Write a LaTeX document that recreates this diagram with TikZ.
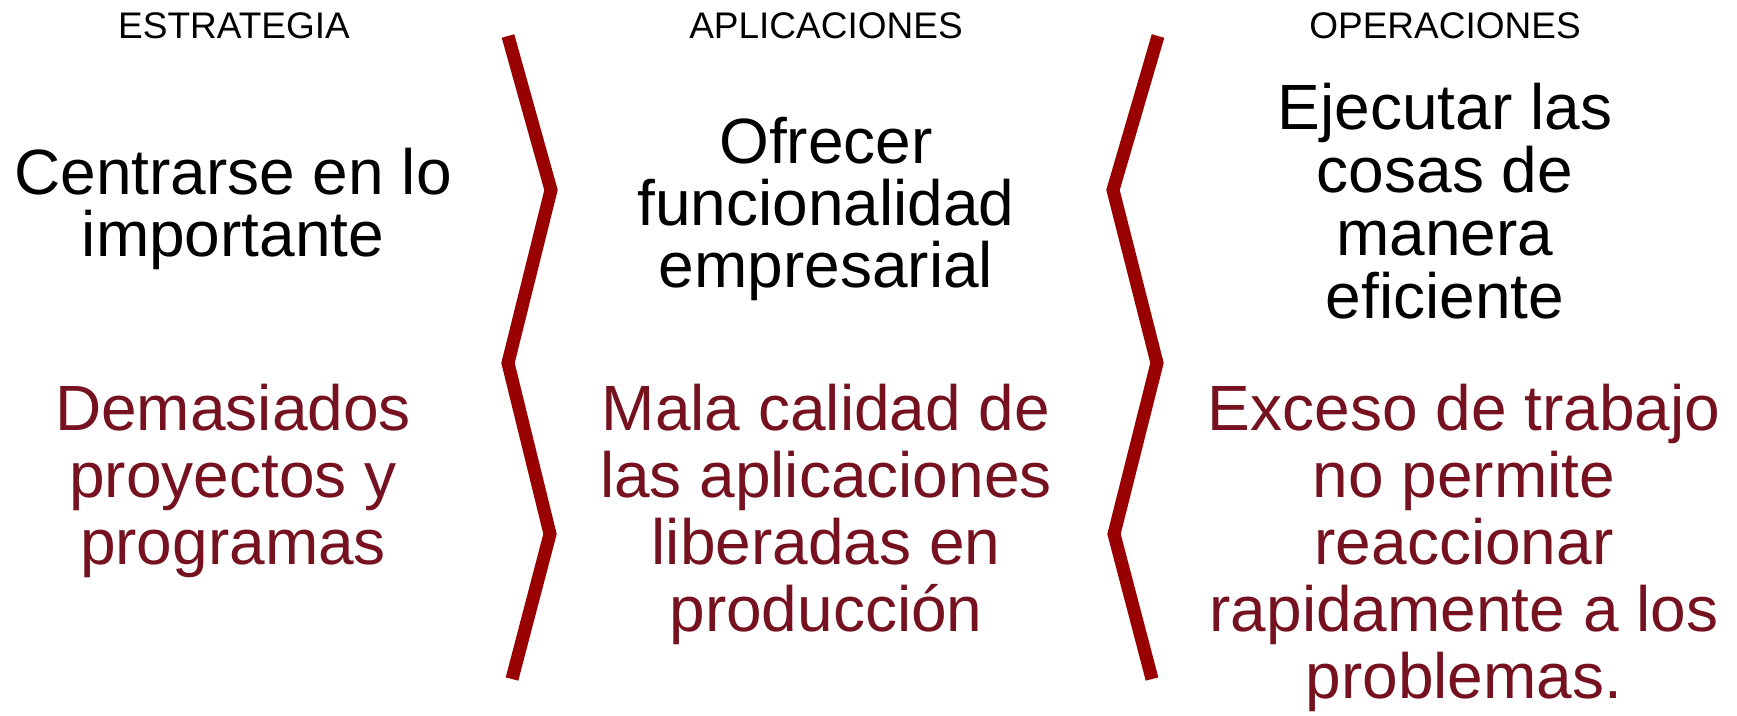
\documentclass[tikz,border=0pt]{standalone}
\usepackage{fontspec}
\setmainfont{Liberation Sans}
\definecolor{zigzagrojo}{RGB}{153,0,0}
\definecolor{textorojo}{RGB}{118,18,32}

\begin{document}
\begin{tikzpicture}[x=1pt,y=-1pt,
   cabecera/.style={anchor=base,font=\fontsize{37}{44}\selectfont},
   idea/.style={anchor=base,align=center,font=\fontsize{64}{62}\selectfont},
   problema/.style={idea,text=textorojo,font=\fontsize{64}{67}\selectfont},
   zigzag/.style={draw=zigzagrojo,line width=13pt,line join=miter}]

   \useasboundingbox (0,0) rectangle (1737,715);

   % cabeceras
   \node[cabecera] (estrategia) at (234,38) {ESTRATEGIA};
   \node[cabecera] (aplicaciones) at (826,38) {APLICACIONES};
   \node[cabecera] (operaciones) at (1445,38) {OPERACIONES};

   % objetivos (base = ultima linea)
   \node[idea] (centrarse) at (233,256) {Centrarse en lo\\importante};
   \node[idea] (ofrecer) at (826,287) {Ofrecer\\funcionalidad\\empresarial};
   \node[idea,font=\fontsize{64}{63}\selectfont] (ejecutar) at (1445,318) {Ejecutar las\\cosas de\\manera\\eficiente};

   % problemas
   \node[problema] (demasiados) at (233,564) {Demasiados\\proyectos y\\programas};
   \node[problema] (mala) at (826,631) {Mala calidad de\\las aplicaciones\\liberadas en\\producción};
   \node[problema] (exceso) at (1464,698) {Exceso de trabajo\\no permite\\reaccionar\\rapidamente a los\\problemas.};

   % separadores
   \draw[zigzag] (508,36) -- (551,190) -- (508,363) -- (550,534) -- (512,679);
   \draw[zigzag] (1158,36) -- (1113,190) -- (1157,363) -- (1114,534) -- (1152,679);

\end{tikzpicture}
\end{document}
